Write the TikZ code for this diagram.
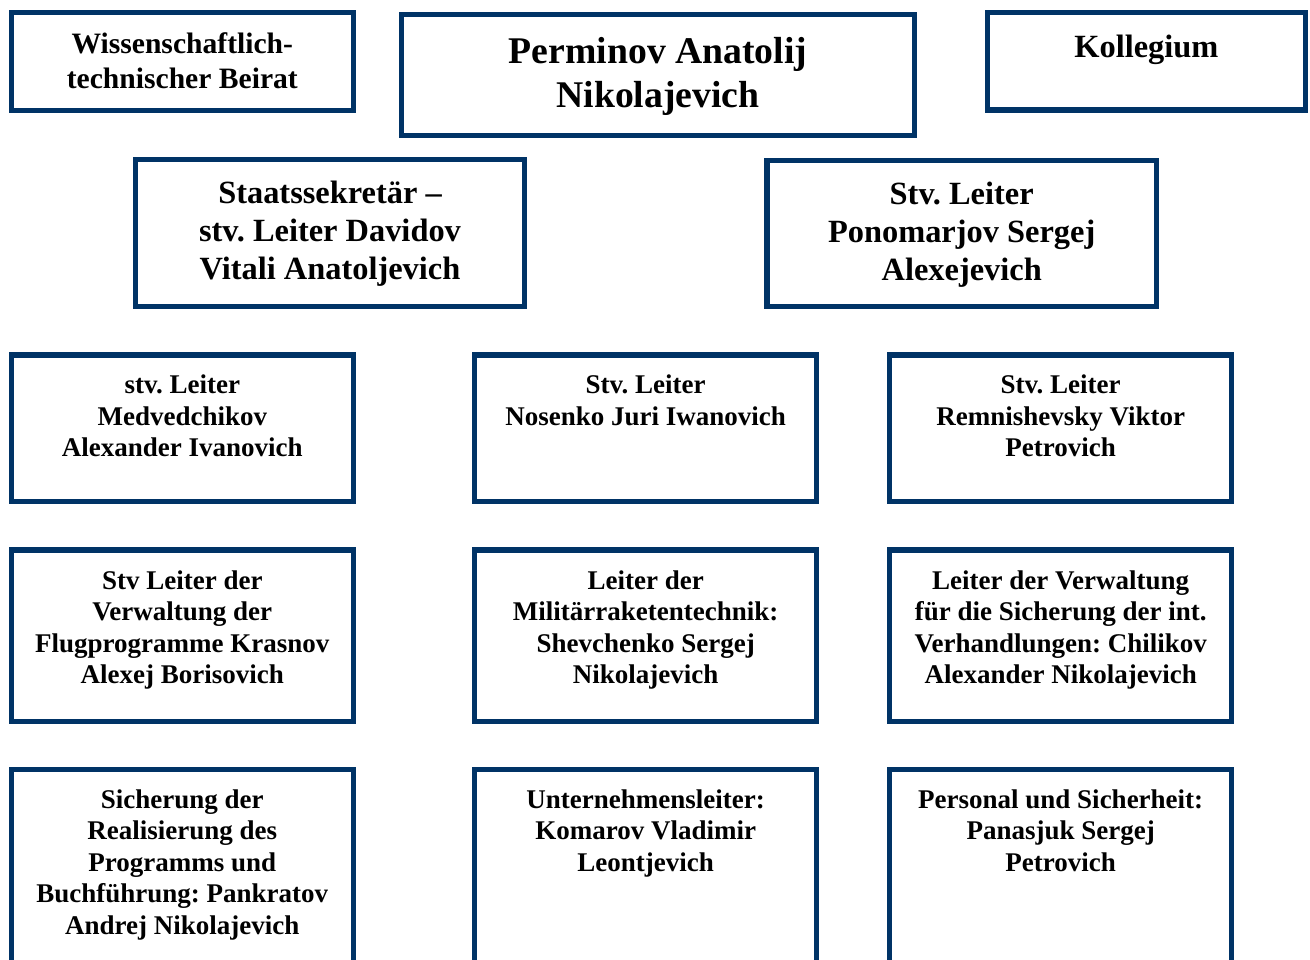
\documentclass[tikz,border=0pt]{standalone}
\usepackage{fontspec}
\setmainfont{Liberation Serif}
\frenchspacing
\definecolor{navy}{RGB}{0,51,102}
\tikzset{
  orgbox/.style={draw=navy, line width=5.5pt, rectangle, inner sep=0pt, outer sep=0pt, anchor=north west},
  smallbox/.style={orgbox, minimum width=342pt},
  txt/.style={anchor=north, inner sep=0pt, outer sep=0pt, align=center, text=black},
  fsmall/.style={txt, font=\frenchspacing\bfseries\fontsize{27}{31.5}\selectfont},
  fmid/.style={txt, font=\frenchspacing\bfseries\fontsize{29.6}{35}\selectfont},
  fbig/.style={txt, font=\frenchspacing\bfseries\fontsize{32.4}{38}\selectfont},
  fhuge/.style={txt, font=\frenchspacing\bfseries\fontsize{37.7}{44}\selectfont}
}
\begin{document}
\begin{tikzpicture}[x=1pt,y=-1pt]
\useasboundingbox (0,0) rectangle (1310,960);
\clip (0,0) rectangle (1310,960);
\fill[white] (0,0) rectangle (1310,960);
% top row
\node[orgbox, minimum width=342pt, minimum height=97.6pt] (b1) at (11.3,12.7) {};
\node[fmid] (t1) at (182.3,32.6) {Wissenschaftlich-\\technischer Beirat};
\node[orgbox, minimum width=513.3pt, minimum height=120.6pt] (b2) at (401.3,14.7) {};
\node[fhuge] (t2) at (658,37.4) {Perminov Anatolij\\Nikolajevich};
\node[orgbox, minimum width=317.9pt, minimum height=97.3pt] (b3) at (987.4,12.7) {};
\node[fbig] (t3) at (1146.4,35) {Kollegium};
% second row
\node[orgbox, minimum width=388.6pt, minimum height=146.6pt] (b4) at (135.7,159.7) {};
\node[fbig] (t4) at (330,181) {Staatssekretär –\\stv. Leiter Davidov\\Vitali Anatoljevich};
\node[orgbox, minimum width=389.3pt, minimum height=145.6pt] (b5) at (767,160.7) {};
\node[fbig] (t5) at (961.7,182) {Stv. Leiter\\Ponomarjov Sergej\\Alexejevich};
% third row
\node[smallbox, minimum height=146.3pt] (b6) at (11.3,355) {};
\node[fsmall] (t6) at (182.3,375) {stv. Leiter\\Medvedchikov\\Alexander Ivanovich};
\node[smallbox, minimum height=146.3pt] (b7) at (474.7,355) {};
\node[fsmall] (t7) at (645.7,375) {Stv. Leiter\\Nosenko Juri Iwanovich};
\node[smallbox, minimum height=146.3pt] (b8) at (889.4,355) {};
\node[fsmall] (t8) at (1060.7,375) {Stv. Leiter\\Remnishevsky Viktor\\Petrovich};
% fourth row
\node[smallbox, minimum height=171.3pt] (b9) at (11.3,550) {};
\node[fsmall] (t9) at (182.3,570.6) {Stv Leiter der\\Verwaltung der\\Flugprogramme Krasnov\\Alexej Borisovich};
\node[smallbox, minimum height=171.3pt] (b10) at (474.7,550) {};
\node[fsmall] (t10) at (645.7,570.6) {Leiter der\\Militärraketentechnik:\\Shevchenko Sergej\\Nikolajevich};
\node[smallbox, minimum height=171.3pt] (b11) at (889.4,550) {};
\node[fsmall] (t11) at (1060.7,570.6) {Leiter der Verwaltung\\für die Sicherung der int.\\Verhandlungen: Chilikov\\Alexander Nikolajevich};
% fifth row
\node[smallbox, minimum height=250pt] (b12) at (11.3,769.7) {};
\node[fsmall] (t12) at (182.3,789.6) {Sicherung der\\Realisierung des\\Programms und\\Buchführung: Pankratov\\Andrej Nikolajevich};
\node[smallbox, minimum height=250pt] (b13) at (474.7,769.7) {};
\node[fsmall] (t13) at (645.7,789.6) {Unternehmensleiter:\\Komarov Vladimir\\Leontjevich};
\node[smallbox, minimum height=250pt] (b14) at (889.4,769.7) {};
\node[fsmall] (t14) at (1060.7,789.6) {Personal und Sicherheit:\\Panasjuk Sergej\\Petrovich};
\end{tikzpicture}
\end{document}
